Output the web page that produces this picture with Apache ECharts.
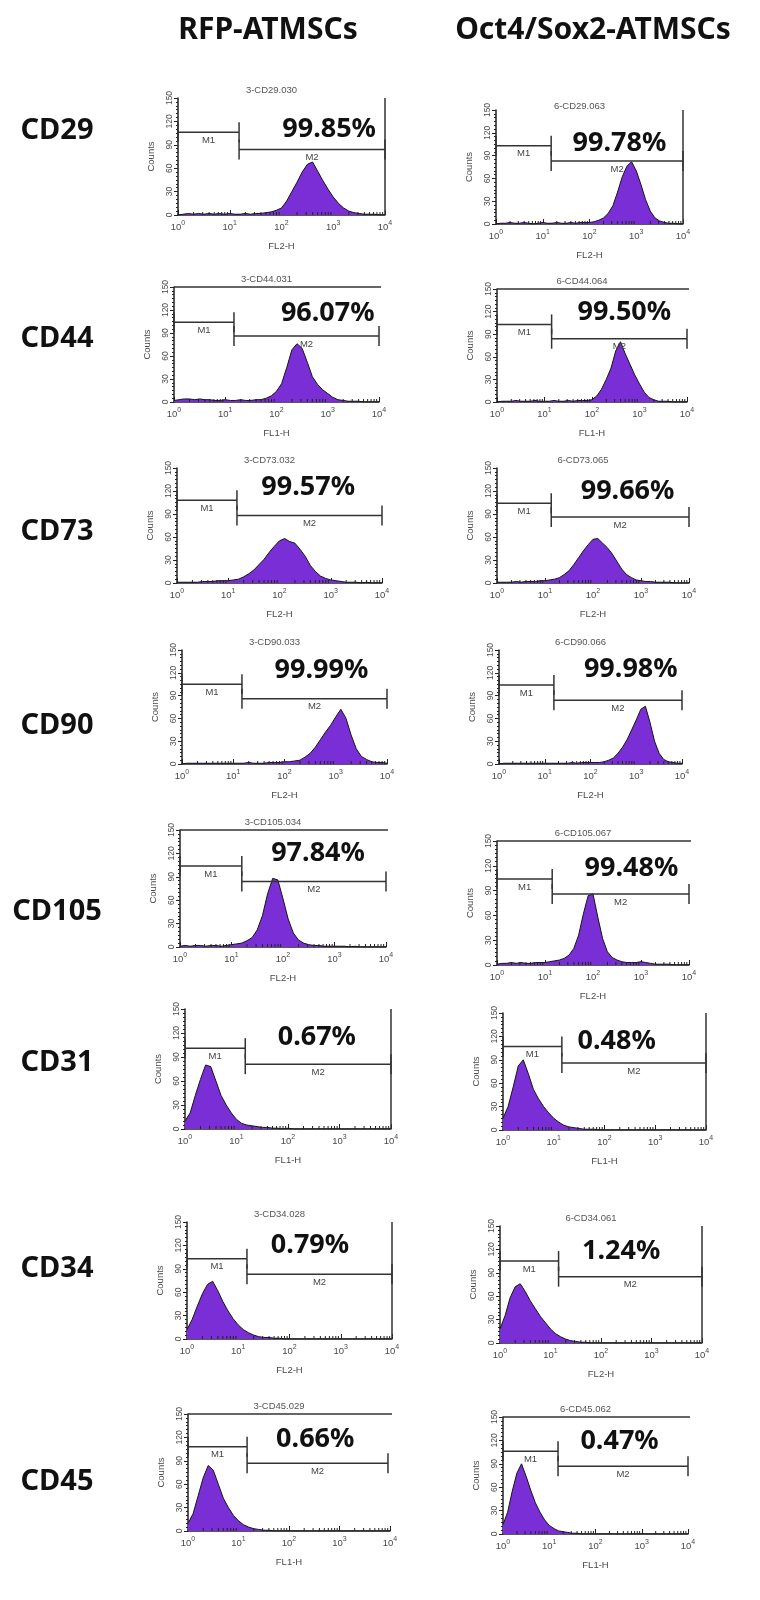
<!DOCTYPE html>
<html><head><meta charset="utf-8">
<script src="https://cdn.jsdelivr.net/npm/echarts@6/dist/echarts.min.js"></script>
<style>html,body{margin:0;padding:0;background:#fff}#c{width:760px;height:1600px}</style>
</head><body><div id="c"></div>
<script>
// ---------- DATA ----------
const MARKERS = ['CD29','CD44','CD73','CD90','CD105','CD31','CD34','CD45'];
const GROUPS = ['RFP-ATMSCs','Oct4/Sox2-ATMSCs'];
// histogram bins, log10 of fluorescence intensity
const BINS = [0,0.1,0.2,0.3,0.4,0.5,0.6,0.7,0.8,0.9,1.0,1.1,1.2,1.3,1.4,1.5,1.6,1.7,1.8,1.9,2.0,2.1,2.2,2.3,2.4,2.5,2.6,2.7,2.8,2.9,3.0,3.1,3.2,3.3,3.4,3.5,3.6,3.7,3.8,3.9,4.0];
const X_TICKS = [0,1,2,3,4];
const Y_TICKS = [0,30,60,90,120,150];

const RFP_CD29 = [0,1,2,1,2,1,2,1,2,1, 2,1,1,2,1,2,2,3,4,6, 9,18,30,42,55,65,68,56,44,33, 23,15,9,5,3,2,1,1,1,0, 0];
const RFP_CD44 = [2,3,4,4,3,4,3,3,2,2, 3,2,2,3,2,2,3,3,5,8, 14,24,45,68,76,70,52,33,23,16, 11,6,3,2,1,1,1,0,0,0, 0];
const RFP_CD73 = [1,1,1,1,1,2,2,2,3,3, 3,4,5,8,12,17,24,31,40,48, 55,58,54,52,44,35,23,15,9,6, 4,3,2,1,1,1,0,1,0,0, 0];
const RFP_CD90 = [0,1,1,1,1,1,1,1,1,1, 1,1,1,2,1,1,1,2,2,2, 3,3,4,5,9,14,22,32,42,51, 62,72,60,38,20,10,6,3,2,2, 1];
const RFP_CD105 = [1,2,1,2,2,1,2,2,1,2, 3,4,5,8,12,22,40,68,88,86, 62,36,18,9,5,3,2,2,1,1, 1,1,1,0,1,0,0,0,0,0, 0];
const RFP_CD31 = [10,20,42,62,80,78,60,42,30,20, 12,7,5,4,3,2,2,1,1,0, 1,0,0,0,0,0,0,0,0,0, 0,0,0,0,0,0,0,0,0,0, 0];
const RFP_CD34 = [12,25,42,58,70,74,62,48,36,26, 18,12,8,5,3,2,2,1,1,0, 0,0,0,0,0,0,0,0,0,0, 0,0,0,0,0,0,0,0,0,0, 0];
const RFP_CD45 = [10,22,45,68,84,78,60,42,30,20, 13,8,5,3,2,1,1,0,0,0, 0,0,0,0,0,0,0,0,0,0, 0,0,0,0,0,0,0,0,0,0, 0];

const OCT_CD29 = [0,1,1,2,1,1,2,1,0,1, 2,1,1,2,1,1,2,1,2,2, 2,3,5,8,14,24,42,62,76,82, 70,52,32,17,8,4,2,1,1,0, 0];
const OCT_CD44 = [0,1,1,1,2,1,1,1,2,1, 1,1,2,1,1,2,1,2,2,2, 3,8,17,30,45,68,80,64,50,36, 24,13,6,3,1,1,1,0,0,0, 0];
const OCT_CD73 = [1,1,1,1,2,1,2,2,2,3, 3,4,5,7,11,16,24,33,42,50, 57,58,52,46,38,28,18,11,7,4, 3,2,2,1,1,1,1,0,0,0, 0];
const OCT_CD90 = [0,1,1,1,1,1,1,1,1,1, 1,1,1,1,1,1,2,1,2,2, 2,2,2,3,5,8,14,22,32,45, 58,72,76,55,30,14,6,3,2,1, 1];
const OCT_CD105 = [1,2,2,3,2,3,2,2,3,3, 3,4,5,6,8,12,20,36,62,84, 86,58,32,16,9,6,4,3,3,3, 4,3,2,1,1,1,1,0,0,0, 0];
const OCT_CD31 = [15,30,55,82,90,72,52,40,30,22, 15,10,6,4,3,2,1,1,1,0, 0,0,0,0,0,0,0,0,0,0, 0,0,0,0,0,0,0,0,0,0, 0];
const OCT_CD34 = [18,35,58,72,76,66,54,44,34,26, 18,12,8,5,3,2,1,1,0,0, 0,0,0,0,0,0,0,0,0,0, 0,0,0,0,0,0,0,0,0,0, 0];
const OCT_CD45 = [12,28,55,78,90,74,56,40,28,18, 11,7,4,3,2,1,1,0,0,0, 0,0,0,0,0,0,0,0,0,0, 0,0,0,0,0,0,0,0,0,0, 0];

const PCT_RFP = ['99.85%','96.07%','99.57%','99.99%','97.84%','0.67%','0.79%','0.66%'];
const PCT_OCT = ['99.78%','99.50%','99.66%','99.98%','99.48%','0.48%','1.24%','0.47%'];
const FILE_RFP = ['3-CD29.030','3-CD44.031','3-CD73.032','3-CD90.033','3-CD105.034','','3-CD34.028','3-CD45.029'];
const FILE_OCT = ['6-CD29.063','6-CD44.064','6-CD73.065','6-CD90.066','6-CD105.067','','6-CD34.061','6-CD45.062'];
const CHANNEL_RFP = ['FL2-H','FL1-H','FL2-H','FL2-H','FL2-H','FL1-H','FL2-H','FL1-H'];
const CHANNEL_OCT = ['FL2-H','FL1-H','FL2-H','FL2-H','FL2-H','FL1-H','FL2-H','FL1-H'];

// gates: M1 = [0, split] at M1 count level, M2 = [split, end] at M2 count level
const SPLIT_RFP = [1.18,1.17,1.17,1.17,1.2,1.17,1.17,1.17];
const SPLIT_OCT = [1.18,1.15,1.13,1.2,1.15,1.16,1.16,1.19];
const END_RFP = [4,4,4,4,4,4,4,3.96];
const END_OCT = [4,4,4,4,4,4,4,4];
const M1Y_RFP = [106,104,108,105,104,101,103,108];
const M2Y_RFP = [84,86,88,86,84,81,83,87];
const M1Y_OCT = [103,103,104,104,104,107,105,106];
const M2Y_OCT = [83,84,86,84,86,86,85,87];

// ---------- LAYOUT ----------
const BOX_RFP = [[178,98,207,117],[174,287,205,115],[177,468,205,115],[182,650,205,114],[180,830,206,117],[185,1009,206,120],[187,1222,205,117],[188,1414,202,117]];
const BOX_OCT = [[496,110,187,114],[497,289,190,113],[497,468,192,115],[499,650,183,114],[497,841,192,124],[503,1013,203,117],[500,1226,202,117],[503,1417,185,117]];
const PCTPOS_RFP = [[0.73,0.27],[0.75,0.23],[0.64,0.17],[0.68,0.18],[0.67,0.2],[0.64,0.24],[0.6,0.2],[0.63,0.22]];
const PCTPOS_OCT = [[0.66,0.29],[0.67,0.21],[0.68,0.2],[0.72,0.17],[0.70,0.22],[0.56,0.24],[0.6,0.22],[0.63,0.21]];
const FRAME_TOP = [0,1,0,0,1,0,0,1];
const FRAME_RIGHT = [1,0,0,0,0,1,1,0];
const ROWLABEL_REL = [0.28,0.45,0.55,0.66,0.7,0.45,0.4,0.58];

const HIST_RFP = [RFP_CD29,RFP_CD44,RFP_CD73,RFP_CD90,RFP_CD105,RFP_CD31,RFP_CD34,RFP_CD45];
const HIST_OCT = [OCT_CD29,OCT_CD44,OCT_CD73,OCT_CD90,OCT_CD105,OCT_CD31,OCT_CD34,OCT_CD45];

const X_MAX = X_TICKS[X_TICKS.length-1], Y_MAX = Y_TICKS[Y_TICKS.length-1];
const panels = [];
MARKERS.forEach((m, r) => {
  panels.push({box:BOX_RFP[r], hist:HIST_RFP[r], pct:PCT_RFP[r], pctPos:PCTPOS_RFP[r], file:FILE_RFP[r], ch:CHANNEL_RFP[r], split:SPLIT_RFP[r], end:END_RFP[r], m1:M1Y_RFP[r], m2:M2Y_RFP[r], row:r, col:0});
  panels.push({box:BOX_OCT[r], hist:HIST_OCT[r], pct:PCT_OCT[r], pctPos:PCTPOS_OCT[r], file:FILE_OCT[r], ch:CHANNEL_OCT[r], split:SPLIT_OCT[r], end:END_OCT[r], m1:M1Y_OCT[r], m2:M2Y_OCT[r], row:r, col:1});
});

// log-spaced minor tick positions (2..9 within each decade)
const MINOR = [];
for (let d = X_TICKS[0]; d < X_MAX; d++) for (let k = 2; k <= 9; k++) MINOR.push([d + Math.log10(k)]);

const AX = '#222', LBL = '#4a4a4a', FF = 'Liberation Sans';
const grids = [], xAxes = [], yAxes = [], series = [], graphics = [];

panels.forEach((p, i) => {
  const [l, t, w, h] = p.box;
  grids.push({left:l, top:t, width:w, height:h});
  xAxes.push({type:'value', gridIndex:i, min:X_TICKS[0], max:X_MAX, interval:1,
    name:p.ch, nameLocation:'middle', nameGap:26,
    nameTextStyle:{fontSize:9.5, color:LBL, fontFamily:FF},
    axisLine:{lineStyle:{color:AX, width:1.5}},
    axisTick:{inside:true, length:5, lineStyle:{color:AX, width:1}},
    axisLabel:{margin:5, color:LBL, formatter: v => '{b|10}{s|' + v + '}',
      rich:{b:{fontSize:9.5, color:LBL, fontFamily:FF, lineHeight:12, verticalAlign:'bottom'},
            s:{fontSize:7, color:LBL, fontFamily:FF, lineHeight:12, verticalAlign:'top', padding:[0,0,6,0]}}},
    splitLine:{show:false}});
  yAxes.push({type:'value', gridIndex:i, min:Y_TICKS[0], max:Y_MAX, interval:30,
    name:'Counts', nameLocation:'middle', nameGap:22, nameRotate:90,
    nameTextStyle:{fontSize:9.5, color:LBL, fontFamily:FF},
    axisLine:{show:true, lineStyle:{color:AX, width:1.5}},
    axisTick:{show:true, length:4, lineStyle:{color:AX}},
    minorTick:{show:true, splitNumber:6, length:2, lineStyle:{color:AX}},
    axisLabel:{rotate:90, fontSize:8.5, color:LBL, fontFamily:FF, margin:4},
    splitLine:{show:false}});

  // histogram
  series.push({type:'line', xAxisIndex:i, yAxisIndex:i, data:BINS.map((b, k) => [b, p.hist[k]]),
    symbol:'none', silent:true, animation:false, z:3,
    lineStyle:{color:'#151515', width:1}, areaStyle:{color:'#7a2fd6', opacity:1}});

  // minor x ticks (log spaced)
  series.push({type:'custom', xAxisIndex:i, yAxisIndex:i, data:MINOR, silent:true, animation:false, clip:false, z:4,
    renderItem:(params, api) => {
      const c = api.coord([api.value(0), 0]);
      return {type:'line', shape:{x1:c[0], y1:c[1], x2:c[0], y2:c[1]-3}, style:{stroke:AX, lineWidth:1}};
    }});

  // gates M1 / M2
  series.push({type:'custom', xAxisIndex:i, yAxisIndex:i, silent:true, animation:false, clip:false, z:5,
    data:[[X_TICKS[0], p.split, p.m1], [p.split, p.end, p.m2]],
    renderItem:(params, api) => {
      const a = api.coord([api.value(0), api.value(2)]);
      const b = api.coord([api.value(1), api.value(2)]);
      const st = {stroke:'#333', lineWidth:1.5};
      return {type:'group', children:[
        {type:'line', shape:{x1:a[0], y1:a[1], x2:b[0], y2:b[1]}, style:st},
        {type:'line', shape:{x1:a[0], y1:a[1]-10, x2:a[0], y2:a[1]+10}, style:st},
        {type:'line', shape:{x1:b[0], y1:b[1]-10, x2:b[0], y2:b[1]+10}, style:st},
        {type:'text', style:{text:params.dataIndex === 0 ? 'M1' : 'M2', x:(a[0]+b[0])/2, y:a[1]+3,
          align:'center', verticalAlign:'top', fontSize:9.5, fill:'#444', fontFamily:FF}}
      ]};
    }});

  // frame remnants (top line / right line)
  const ft = FRAME_TOP[p.row], fr = FRAME_RIGHT[p.row];
  if (ft || fr) {
    series.push({type:'custom', xAxisIndex:i, yAxisIndex:i, silent:true, animation:false, clip:false, z:5,
      data:[[X_MAX, Y_MAX]],
      renderItem:(params, api) => {
        const tr = api.coord([api.value(0), api.value(1)]);
        const tl = api.coord([X_TICKS[0], api.value(1)]);
        const br = api.coord([api.value(0), Y_TICKS[0]]);
        const st = {stroke:'#333', lineWidth:1.5};
        const ch = [];
        if (ft) ch.push({type:'line', shape:{x1:tl[0], y1:tl[1], x2:tr[0]+2, y2:tr[1]}, style:st});
        if (fr) ch.push({type:'line', shape:{x1:tr[0], y1:tr[1], x2:br[0], y2:br[1]}, style:st});
        return {type:'group', children:ch};
      }});
  }

  // file title
  if (p.file) graphics.push({type:'text', x:l + w/2 - 10, y:t - 8 + (p.row === 0 && p.col === 1 ? 4 : 0),
    style:{text:p.file, fontSize:9.5, fill:'#555', fontFamily:FF, align:'center', verticalAlign:'middle'}});
  // percentage
  graphics.push({type:'text', x:l + p.pctPos[0]*w, y:t + p.pctPos[1]*h,
    style:{text:p.pct, fontSize:27, fontWeight:'bold', fill:'#111', fontFamily:'Noto Sans', align:'center', verticalAlign:'middle'}});
});

// row labels
MARKERS.forEach((m, r) => {
  const [l, t, w, h] = BOX_RFP[r];
  graphics.push({type:'text', x:57, y:t + ROWLABEL_REL[r]*h,
    style:{text:m, fontSize:29, fontWeight:'bold', fill:'#111', fontFamily:'Noto Sans', align:'center', verticalAlign:'middle'}});
});
// column headers
graphics.push({type:'text', x:268, y:30, style:{text:GROUPS[0], fontSize:30, fontWeight:'bold', fill:'#111', fontFamily:'Noto Sans', align:'center', verticalAlign:'middle'}});
graphics.push({type:'text', x:593, y:30, style:{text:GROUPS[1], fontSize:30, fontWeight:'bold', fill:'#111', fontFamily:'Noto Sans', align:'center', verticalAlign:'middle'}});

const chart = echarts.init(document.getElementById('c'), null, {renderer:'canvas'});
chart.setOption({backgroundColor:'#fff', animation:false, grid:grids, xAxis:xAxes, yAxis:yAxes, series:series, graphic:graphics});
</script></body></html>
